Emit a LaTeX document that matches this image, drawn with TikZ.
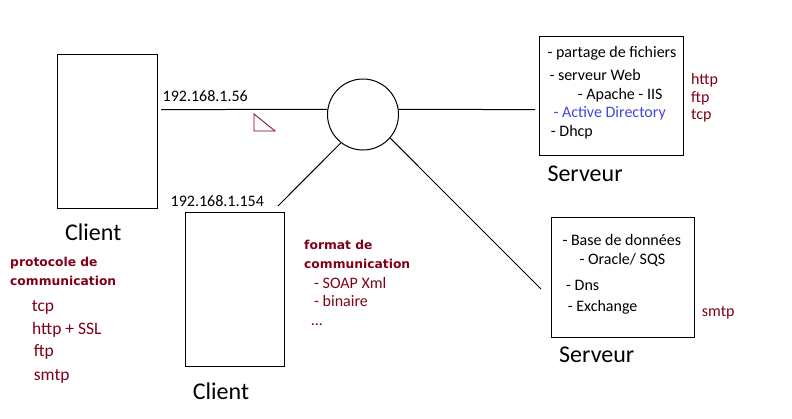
\documentclass[tikz,border=0pt]{standalone}
\usepackage{fontspec}
\setmainfont{Carlito}
\newfontfamily\labfont{DejaVu Sans}
\definecolor{dred}{RGB}{128,0,24}
\definecolor{adblue}{RGB}{70,70,215}
\begin{document}
\begin{tikzpicture}[x=1pt,y=-1pt,
  txt/.style={anchor=base west,inner sep=0pt,font=\fontsize{16}{18}\selectfont},
  big/.style={anchor=base west,inner sep=0pt,font=\fontsize{24}{28}\selectfont},
  red/.style={txt,text=dred},
  bl/.style={anchor=base west,inner sep=0pt,text=dred,font=\labfont\bfseries\fontsize{12.3}{15}\selectfont},
  wire/.style={line width=1pt}]
\useasboundingbox (0,0) rectangle (792,418);
% boxes
\node[draw,line width=1pt,inner sep=0pt,minimum width=100pt,minimum height=154pt] (client1) at (107,131) {};
\node[draw,line width=1pt,inner sep=0pt,minimum width=99.4pt,minimum height=153.7pt] (client2) at (235,289.2) {};
\node[draw,line width=1pt,inner sep=0pt,minimum width=144pt,minimum height=119pt] (srv1) at (611,95.5) {};
\node[draw,line width=1pt,inner sep=0pt,minimum width=143pt,minimum height=120pt] (srv2) at (622.5,277) {};
\node[draw,line width=1pt,circle,inner sep=0pt,minimum size=71pt] (hub) at (363,114.5) {};
% connector end points
\coordinate (c1) at (161,109.5);
\coordinate (s1) at (535,109.5);
\coordinate (c2) at (278,206);
\coordinate (s2) at (541,289);
\draw[wire] (c1) -- (hub.172);
\draw[wire] (hub.8) -- (s1);
\draw[wire] (hub.232) -- (c2);
\draw[wire] (hub.-41) -- (s2);
% triangle
\draw[dred,line width=0.8pt] (254,114) -- (254,131) -- (275,131) -- cycle;
% IP labels
\node[txt] (ip1) at (162.5,101.7) {192.168.1.56};
\node[txt] (ip2) at (170.5,206.7) {192.168.1.154};
% client labels
\node[big] (cl1) at (65,240.7) {Client};
\node[big] (cl2) at (192.7,399.3) {Client};
% server 1 texts
\node[txt] at (547.3,57.7) {- partage de fichiers};
\node[txt] at (549.3,80.7) {- serveur Web};
\node[txt] at (577.7,99) {- Apache - IIS};
\node[txt,text=adblue] at (553.3,117.3) {- Active Directory};
\node[txt] at (550.7,136) {- Dhcp};
\node[big] (sv1) at (547.3,181) {Serveur};
\node[red] at (691,84.3) {http};
\node[red] at (691,102.7) {ftp};
\node[red] at (691,119.3) {tcp};
% server 2 texts
\node[txt] at (562.3,245) {- Base de données};
\node[txt] at (579.3,264.3) {- Oracle/ SQS};
\node[txt] at (566,290) {- Dns};
\node[txt] at (567.7,311) {- Exchange};
\node[red] at (701.7,316) {smtp};
\node[big] (sv2) at (559,362.7) {Serveur};
% left protocol list
\node[bl] at (10,266.7) {protocole de};
\node[bl] at (10,285.7) {communication};
\node[red,font=\fontsize{17.5}{20}\selectfont] at (31.7,311.7) {tcp};
\node[red,font=\fontsize{17.5}{20}\selectfont] at (32,334) {http + SSL};
\node[red,font=\fontsize{17.5}{20}\selectfont] at (33.7,356.7) {ftp};
\node[red,font=\fontsize{17.5}{20}\selectfont] at (33.7,380) {smtp};
% middle format list
\node[bl] at (304,249) {format de};
\node[bl] at (304,268.3) {communication};
\node[red] at (314,288.3) {- SOAP Xml};
\node[red] at (314,306.7) {- binaire};
\node[red] at (310.7,325) {...};
\end{tikzpicture}
\end{document}
